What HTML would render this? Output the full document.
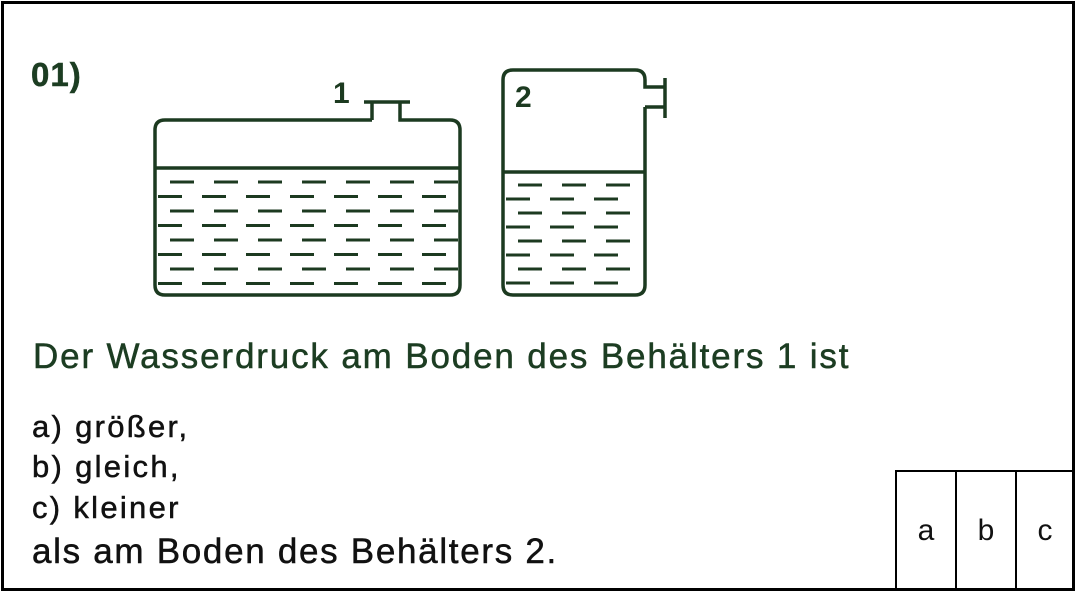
<!DOCTYPE html>
<html><head><meta charset="utf-8"><style>
body{margin:0;background:#fff}
#page{position:relative;width:1075px;height:591px;overflow:hidden;font-family:"Liberation Sans",sans-serif;color:#1c3d22}
#frame{position:absolute;left:1px;top:1px;width:1068px;height:584px;border:3px solid #000}
.t{position:absolute;white-space:nowrap;-webkit-text-stroke:0.5px currentColor}
.box{position:absolute;top:470px;height:118px;border-left:2px solid #000;border-top:2px solid #000;color:#111;font-size:30px;display:flex;align-items:center;justify-content:center;width:58px}
</style></head><body>
<div id="page">
<div id="frame"></div>
<div class="t" style="left:31px;top:56px;font-size:33px;font-weight:bold;letter-spacing:1px">01)</div>
<svg width="1075" height="591" style="position:absolute;left:0;top:0">
<g fill="none" stroke="#1c3a20" stroke-width="3.5" id="g">
<path d="M372 120 H165 Q155 120 155 130 V285 Q155 295 165 295 H450 Q460 295 460 285 V130 Q460 120 450 120 H400 V103 M372 120 V103 M364 102 H410"/>
<line x1="155" y1="168" x2="460" y2="168"/>
<path d="M645 107 V285 Q645 295 635 295 H513 Q503 295 503 285 V80 Q503 70 513 70 H635 Q645 70 645 80 V87 H664 M645 107 H664 M665 78 V118"/>
<line x1="503" y1="172" x2="645" y2="172"/>
</g>
<text x="333" y="103" font-size="30" font-weight="bold" fill="#1c3a20" font-family="Liberation Sans">1</text>
<text x="515" y="107" font-size="30" font-weight="bold" fill="#1c3a20" font-family="Liberation Sans">2</text>
</svg>
<div class="t" style="left:33px;top:337px;font-size:35px;letter-spacing:1.85px">Der Wasserdruck am Boden des Behälters 1 ist</div>
<div class="t" style="left:32px;top:409px;font-size:31px;letter-spacing:2.3px;color:#111">a) größer,</div>
<div class="t" style="left:32px;top:449px;font-size:31px;letter-spacing:2.3px;color:#111">b) gleich,</div>
<div class="t" style="left:32px;top:490px;font-size:31px;letter-spacing:2.3px;color:#111">c) kleiner</div>
<div class="t" style="left:32px;top:532px;font-size:35px;letter-spacing:1.7px;color:#111">als am Boden des Behälters 2.</div>
<div class="box" style="left:895px">a</div>
<div class="box" style="left:955px">b</div>
<div class="box" style="left:1015px;width:56px">c</div>
</div>
<script>
var svg=document.querySelector('svg');
function dashes(x0,x1,y0,rows,step){
  for(var r=0;r<rows;r++){
    var y=y0+r*step, off=(r%2)?0:12;
    for(var x=x0+off;x+18<x1;x+=44){
      var l=document.createElementNS('http://www.w3.org/2000/svg','line');
      l.setAttribute('x1',x);l.setAttribute('x2',Math.min(x+24,x1));l.setAttribute('y1',y);l.setAttribute('y2',y);
      l.setAttribute('stroke','#1c3a20');l.setAttribute('stroke-width','3');
      
      
      svg.appendChild(l);
    }
  }
}
dashes(158,458,182,8,14.5);
dashes(506,643,185,8,14);
</script>
</body></html>
